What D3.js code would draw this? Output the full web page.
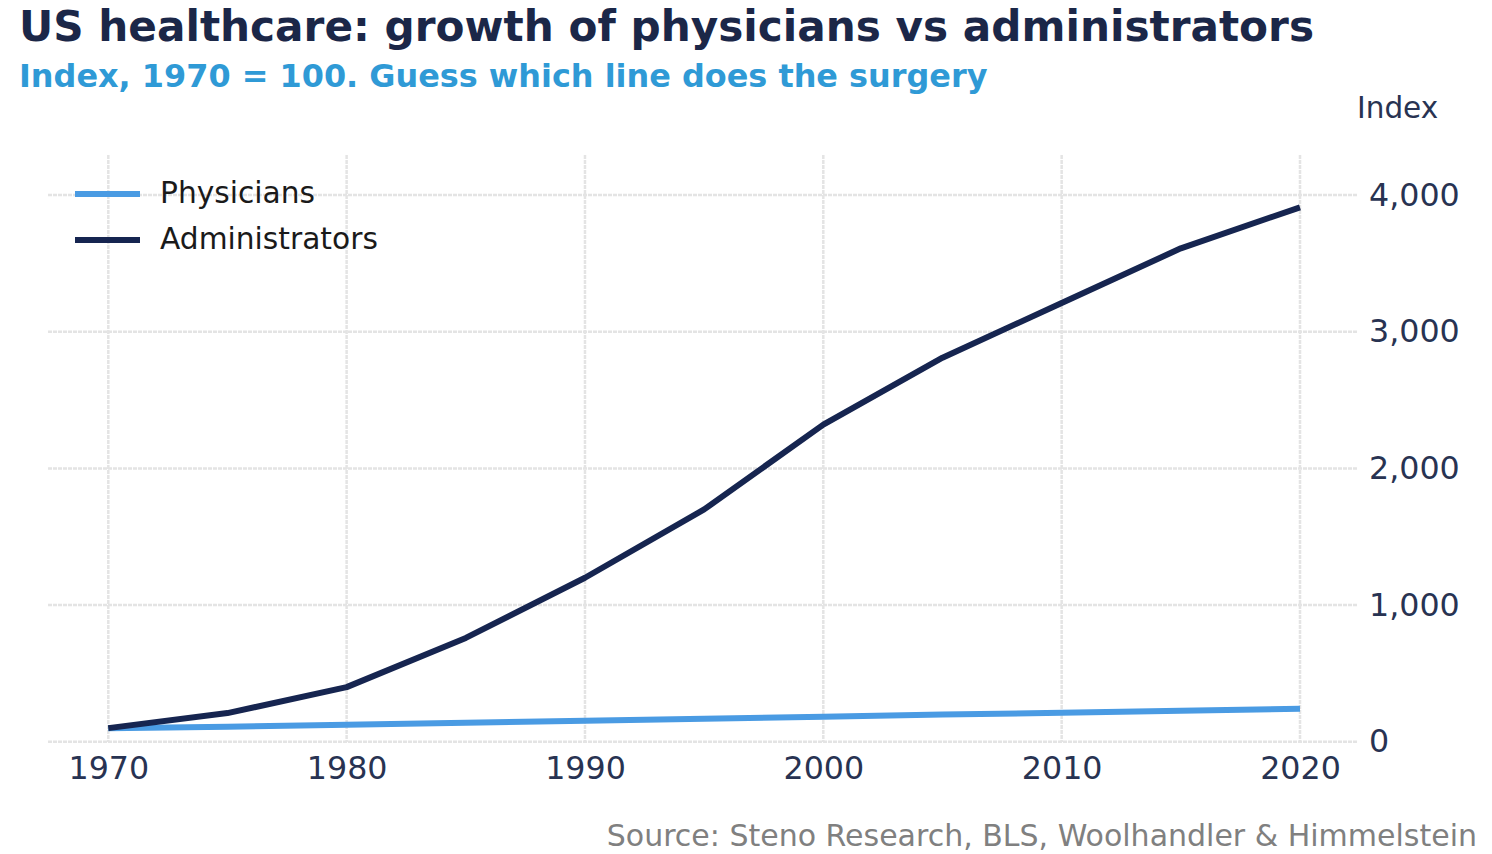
<!DOCTYPE html>
<html><head><meta charset="utf-8">
<script src="https://cdn.jsdelivr.net/npm/d3@7"></script>
<style>
html,body{margin:0;padding:0;background:#fff;}
text{font-family:"DejaVu Sans",sans-serif;}
</style></head>
<body><svg id="c" width="1492" height="854"></svg>
<script>
const years = [1970,1975,1980,1985,1990,1995,2000,2005,2010,2015,2020];
const physicians = [100,111,124,139,154,169,184,199,213,228,242];
const administrators = [100,210,400,760,1200,1700,2320,2810,3210,3610,3910];
const xTicks = [1970,1980,1990,2000,2010,2020];
const yTicks = [0,1000,2000,3000,4000];
const seriesNames = ["Physicians","Administrators"];
const seriesColors = ["#4a9be3","#162550"];

const svg = d3.select("#c");
const x = d3.scaleLinear().domain([1970,2020]).range([108.3,1300]);
const y = d3.scaleLinear().domain([0,4000]).range([741.8,195]);

// title
svg.append("text").attr("x",19).attr("y",41).attr("font-size",42.2).attr("font-weight","bold")
  .attr("fill","#1b2748").text("US healthcare: growth of physicians vs administrators");
svg.append("text").attr("x",19).attr("y",87).attr("font-size",31.9).attr("font-weight","bold")
  .attr("fill","#2f9ad6").text("Index, 1970 = 100. Guess which line does the surgery");

// grid
const grid = svg.append("g").attr("stroke","#e4e4e4").attr("stroke-width",2.5).attr("stroke-dasharray","4,1");
grid.selectAll("line.h").data(yTicks).join("line").attr("class","h")
  .attr("x1",48).attr("x2",1357).attr("y1",d=>y(d)).attr("y2",d=>y(d));
grid.selectAll("line.v").data(xTicks).join("line").attr("class","v")
  .attr("x1",d=>x(d)).attr("x2",d=>x(d)).attr("y1",155).attr("y2",742);

// axes
const xAxis = svg.append("g").attr("transform","translate(0,742)")
  .call(d3.axisBottom(x).tickValues(xTicks).tickFormat(d3.format("d")).tickSize(0).tickPadding(14));
xAxis.select(".domain").remove();
xAxis.selectAll("text").attr("font-size",31.7).attr("fill","#283352").attr("font-family","DejaVu Sans");

const yAxis = svg.append("g").attr("transform","translate(1369,0)")
  .call(d3.axisRight(y).tickValues(yTicks).tickFormat(d3.format(",")).tickSize(0).tickPadding(0));
yAxis.select(".domain").remove();
yAxis.selectAll("text").attr("font-size",31.7).attr("fill","#283352").attr("font-family","DejaVu Sans");

svg.append("text").attr("x",1357).attr("y",118).attr("font-size",29.5).attr("fill","#283352").text("Index");

// lines
const line = d3.line().x((d,i)=>x(years[i])).y(d=>y(d));
[physicians,administrators].forEach((s,k)=>{
  svg.append("path").datum(s).attr("d",line).attr("fill","none")
    .attr("stroke",seriesColors[k]).attr("stroke-width",6).attr("stroke-linejoin","round");
});

// legend
const lg = svg.append("g");
seriesNames.forEach((n,k)=>{
  const yy = 194 + k*46;
  lg.append("line").attr("x1",75).attr("x2",140).attr("y1",yy).attr("y2",yy)
    .attr("stroke",seriesColors[k]).attr("stroke-width",6);
  lg.append("text").attr("x",160).attr("y",yy+9).attr("font-size",29.7).attr("fill","#1a1a1a").text(n);
});

// source
svg.append("text").attr("x",1477).attr("y",846).attr("text-anchor","end").attr("font-size",30)
  .attr("fill","#808080").text("Source: Steno Research, BLS, Woolhandler & Himmelstein");
</script></body></html>
